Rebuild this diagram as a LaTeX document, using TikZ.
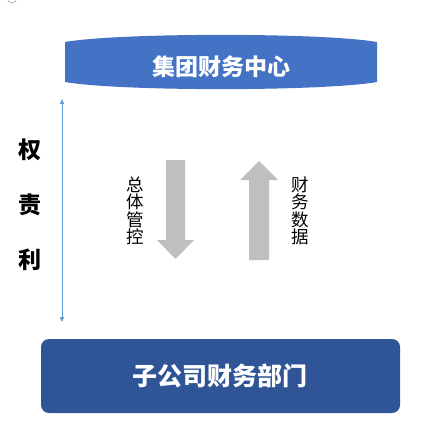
\documentclass[tikz,border=0pt]{standalone}
\usepackage{fontspec}
\newfontfamily\cjk{Noto Sans CJK SC}
\usepackage{xcolor}
\usetikzlibrary{arrows.meta, positioning}
\definecolor{topblue}{HTML}{4472C4}
\definecolor{subblue}{HTML}{2F5597}
\definecolor{lineblue}{HTML}{5B9BD5}
\definecolor{flowgray}{HTML}{BFBFBF}
\tikzset{
  title/.style={text=white, font=\cjk\bfseries\fontsize{23}{23}\selectfont, inner sep=0pt},
  side/.style={text=black, font=\cjk\bfseries\fontsize{23}{23}\selectfont, inner sep=0pt},
  vtext/.style={text=black, align=center, font=\cjk\fontsize{17.5}{17.5}\selectfont, inner sep=0pt},
  darr/.style={{Triangle[length=5pt, width=4pt]}-{Triangle[length=5pt, width=4pt]}, lineblue, line width=0.8pt},
}

\begin{document}
\begin{tikzpicture}[x=1pt, y=-1pt]
  \useasboundingbox (0,0) rectangle (428,441);
  \draw[gray!70, line width=0.6pt] (12,-2) circle (5);
  % group centre
  \fill[topblue] (65,42) .. controls (120,32.5) and (322,32.5) .. (377,42)
    -- (377,82) .. controls (322,91.5) and (120,91.5) .. (65,82) -- cycle;
  \node[title] (group) at (221,67) {集团财务中心};
  % subsidiary
  \fill[subblue, rounded corners=8pt] (41,339) rectangle (400,413);
  \node[title, font=\cjk\bfseries\fontsize{25}{25}\selectfont] (sub) at (220,376) {子公司财务部门};
  % rights axis
  \coordinate (axtop) at (62,99);
  \coordinate (axbot) at (62,322);
  \draw[darr] (axtop) -- (axbot);
  \node[side] (quan) at (30,150) {权};
  \node[side] (ze) at (30,205) {责};
  \node[side] (li) at (30,260) {利};
  % flows
  \fill[flowgray] (166,160) -- (185,160) -- (185,240) -- (194,240) -- (175.5,259)
    -- (157,240) -- (166,240) -- cycle;
  \fill[flowgray] (249,260) -- (269,260) -- (269,180) -- (278,180) -- (259,161)
    -- (240,180) -- (249,180) -- cycle;
  \node[vtext] (control) at (135,211) {总\\体\\管\\控};
  \node[vtext] (data) at (300,211) {财\\务\\数\\据};
\end{tikzpicture}
\end{document}
